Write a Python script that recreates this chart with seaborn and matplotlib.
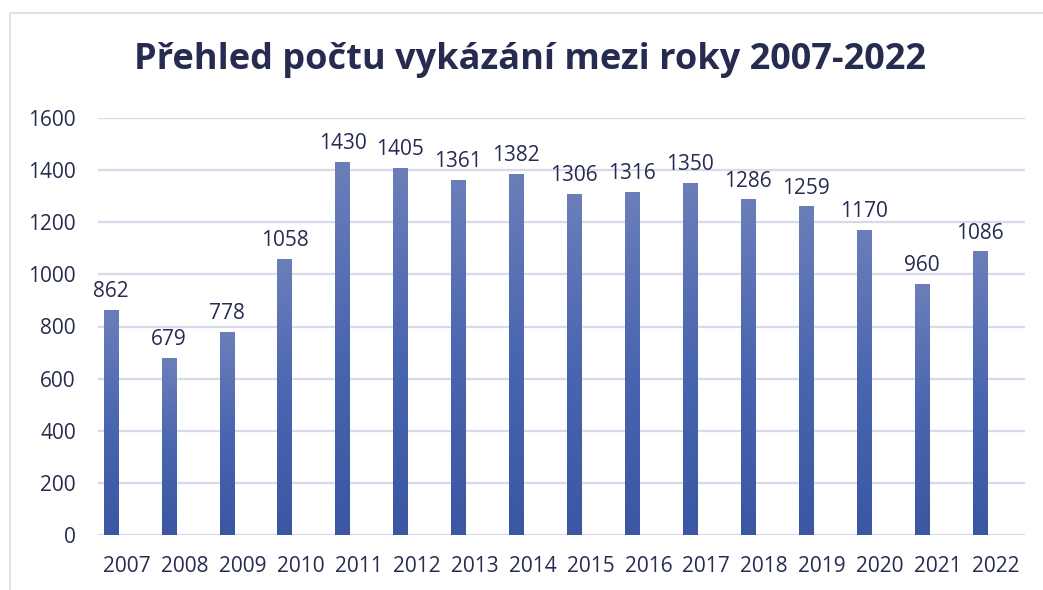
import numpy as np
import pandas as pd
import matplotlib
matplotlib.use("Agg")
import matplotlib.pyplot as plt
import seaborn as sns
from matplotlib.colors import LinearSegmentedColormap
from matplotlib.patches import Rectangle

years = ["2007", "2008", "2009", "2010", "2011", "2012", "2013", "2014",
         "2015", "2016", "2017", "2018", "2019", "2020", "2021", "2022"]
counts = [862, 679, 778, 1058, 1430, 1405, 1361, 1382,
          1306, 1316, 1350, 1286, 1259, 1170, 960, 1086]
title = "Přehled počtu vykázání mezi roky 2007-2022"

sns.set_theme(style="white")
plt.rcParams['font.family'] = ['Open Sans', 'DejaVu Sans']

TXT = "#262b50"
GRID = "#d9d9ec"

fig = plt.figure(figsize=(10.43, 5.90), dpi=100)
ax = fig.add_axes([98/1043, 1-535/590, (1025-98)/1043, (535-118)/590])

df = pd.DataFrame({"year": years, "count": counts})
sns.barplot(data=df, x="year", y="count", ax=ax, color="#4a63ad",
            width=0.245, saturation=1)

cmap = LinearSegmentedColormap.from_list("g", ["#3b56a2", "#4a66b0", "#6b7eb9"])
grad = np.linspace(0, 1, 256).reshape(-1, 1)
shift = -0.28
for p, v in zip(ax.patches, counts):
    p.set_x(p.get_x() + shift)
    x0, w = p.get_x(), p.get_width()
    p.set_alpha(0)
    ax.imshow(grad, cmap=cmap, origin="lower", aspect="auto",
              extent=[x0, x0 + w, 0, v], zorder=3)
    ax.annotate(f"{v}", (x0 + w / 2, v), xytext=(0, 6), textcoords="offset points",
                ha="center", va="bottom", fontsize=15, color=TXT, zorder=4)

ax.set_xlim(-0.5, len(years) - 0.5)
ax.set_ylim(0, 1600)
ax.set_yticks(range(0, 1601, 200))
ax.yaxis.grid(True, color=GRID, linewidth=1.6)
ax.set_axisbelow(True)
for s in ax.spines.values():
    s.set_visible(False)
ax.tick_params(axis="both", length=0, labelsize=15, labelcolor=TXT)
ax.tick_params(axis="y", pad=16)
ax.tick_params(axis="x", pad=15)
ax.set_xlabel("")
ax.set_ylabel("")

fig.text(530/1043, 1-60/590, title, ha="center", va="center",
         fontsize=26, fontweight="bold", color=TXT)

fig.add_artist(Rectangle((10/1043, -0.01), 1.1, 1-13/590 + 0.01,
                         transform=fig.transFigure, fill=False,
                         edgecolor=GRID, linewidth=1.2))

fig.savefig("out.png", dpi=100)
